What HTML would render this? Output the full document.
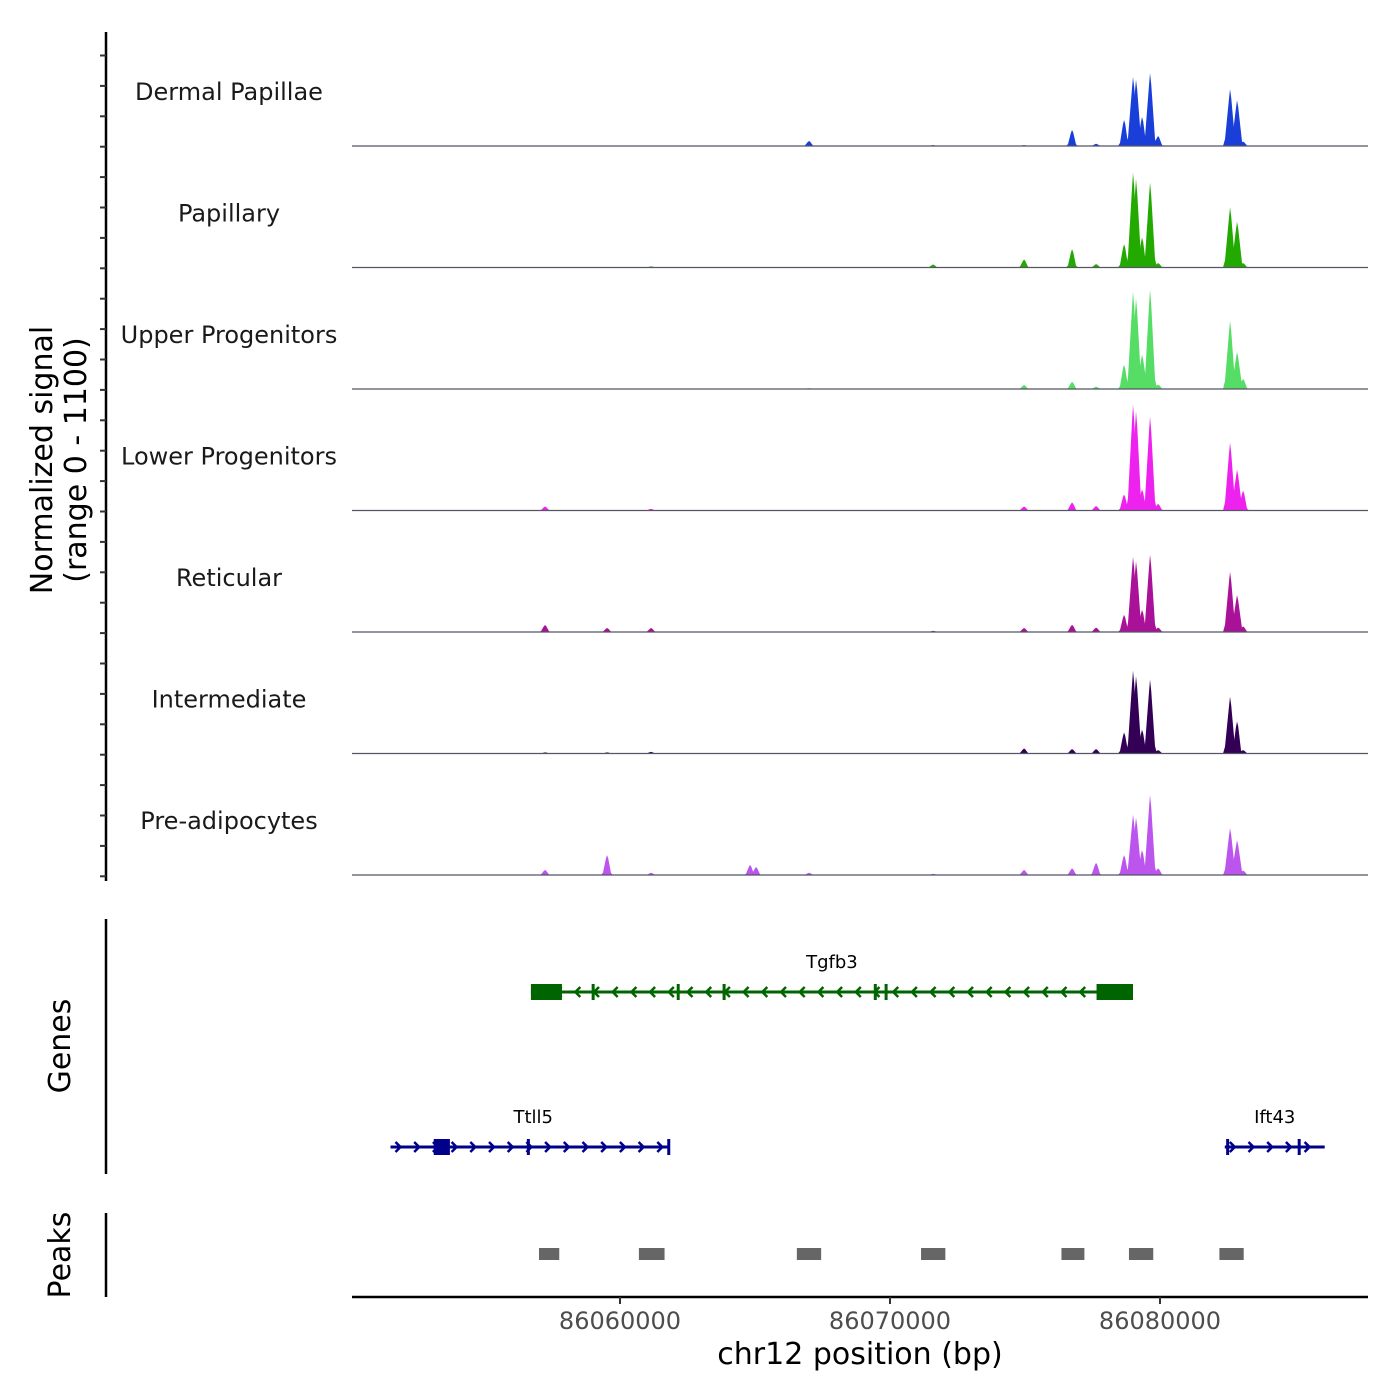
<!DOCTYPE html>
<html><head><meta charset="utf-8">
<style>
html,body{margin:0;padding:0;background:#fff;}
svg{display:block;font-family:"DejaVu Sans","Liberation Sans",sans-serif;}
</style></head>
<body>
<svg id="chart" width="1400" height="1400" viewBox="0 0 1400 1400" xmlns="http://www.w3.org/2000/svg">
<rect width="1400" height="1400" fill="#fff"/>
<g id="tracks"></g>
<g id="genes"></g>
<g id="peaks"></g>
<g id="axes"></g>
</svg>
<script>
// ---- data ----
const trackNames = ["Dermal Papillae","Papillary","Upper Progenitors","Lower Progenitors","Reticular","Intermediate","Pre-adipocytes"];
const trackColors = ["#1a3fd9","#22aa00","#55dd66","#ee22ee","#aa1199","#330055","#bb55ee"];
const peakPositions = [86057222,86059518,86061148,86064815,86065037,86066999,86071593,86074963,86076741,86077630,86078667,86079000,86079111,86079333,86079630,86079926,86082593,86082852,86083074];
const sigDermal       = [5,0,5,0,0,45,8,8,145,20,235,625,600,262,660,90,515,415,40];
const sigPapillary    = [0,0,10,0,0,0,27,72,165,30,210,860,800,270,770,40,545,415,40];
const sigUpper        = [0,0,0,0,0,8,0,36,65,20,220,880,820,310,900,40,615,335,90];
const sigLower        = [36,0,15,0,0,0,0,36,72,40,145,960,900,190,850,60,615,370,180];
const sigReticular    = [63,36,36,0,0,0,10,36,65,40,155,680,640,200,700,40,545,335,50];
const sigIntermediate = [10,10,15,0,0,0,0,45,40,40,190,750,700,215,670,30,515,290,30];
const sigPreadipocyte = [45,180,20,90,72,20,10,45,60,110,180,545,520,225,725,60,425,315,40];
const signals = [sigDermal,sigPapillary,sigUpper,sigLower,sigReticular,sigIntermediate,sigPreadipocyte];
const xTicks = [86060000,86070000,86080000];
const peakStarts = [86057000,86060700,86066550,86071150,86076350,86078850,86082200];
const peakEnds   = [86057750,86061650,86067450,86072050,86077200,86079750,86083100];
const genes = [
 {name:"Tgfb3",strand:-1,start:86056700,end:86079000,exons:[[86056700,86057850],[86058950,86059050],[86062100,86062200],[86063800,86063850],[86069400,86069500],[86069800,86069900],[86077650,86079000]],row:0},
 {name:"Ttll5",strand:1,start:86051500,end:86061850,exons:[[86053100,86053700],[86056550,86056650],[86061750,86061850]],row:1},
 {name:"Ift43",strand:1,start:86082400,end:86086100,exons:[[86082450,86082550],[86085100,86085200]],row:1}
];
// ---- scales ----
const X0=352,X1=1368,bp0=86050074,pxPerBp=0.027;
const xs=bp=>X0+(bp-bp0)*pxPerBp;
const trackH=121.5, baseY0=146, maxVal=1100;
const ys=(t,v)=>baseY0+t*trackH - v/maxVal*trackH;
const NS="http://www.w3.org/2000/svg";
function mk(tag,attrs,parent){const e=document.createElementNS(NS,tag);for(const k in attrs)e.setAttribute(k,attrs[k]);parent.appendChild(e);return e;}
const gT=document.getElementById('tracks');
signals.forEach((sig,t)=>{
  const g=mk('g',{},gT);
  
  
  const base=ys(t,0);
  peakPositions.forEach((p,i)=>{
    const v=sig[i]; if(v<=0)return;
    const cx=xs(p), top=ys(t,v), h=base-top, hw=v>300?5:4;
    const poly=mk('polygon',{points:`${cx-hw-2},${base} ${cx-hw},${base-h*0.12} ${cx-1.2},${top+h*0.2} ${cx},${top} ${cx+1.2},${top+h*0.15} ${cx+hw},${base-h*0.1} ${cx+hw+2},${base}`,fill:trackColors[t]},g);
    
    
  });
  const bl=mk('line',{x1:X0,x2:X1,y1:base,y2:base,stroke:'#555566','stroke-width':1.2},g);
  
  
  const lab=mk('text',{x:229,y:base-46,'text-anchor':'middle','font-size':24,fill:'#1a1a1a'},g);
  lab.textContent=trackNames[t];
  
  
});
// genes
const gG=document.getElementById('genes');
genes.forEach(ge=>{
  const col=ge.strand<0?'#006400':'#00008b';
  const y=ge.row===0?992:1147;
  const g=mk('g',{},gG);
  
  
  mk('line',{x1:xs(ge.start),x2:xs(ge.end),y1:y,y2:y,stroke:col,'stroke-width':3},g);
  const a0=xs(ge.start)+8,a1=xs(ge.end)-4;
  for(let x=a0;x<a1;x+=18.7){
    const d=ge.strand<0?`M${x+4},${y-5} L${x-1},${y} L${x+4},${y+5}`:`M${x-3},${y-5} L${x+2},${y} L${x-3},${y+5}`;
    mk('path',{d:d,fill:'none',stroke:col,'stroke-width':2.5},g);
  }
  ge.exons.forEach(ex=>{
    const w=Math.max(3,xs(ex[1])-xs(ex[0]));
    const r=mk('rect',{x:xs(ex[0]),y:y-8,width:w,height:16,fill:col},g);
    
    
  });
  const lab=mk('text',{x:(xs(ge.start)+xs(ge.end))/2+(ge.name==="Ttll5"?3:0),y:y-24,'text-anchor':'middle','font-size':18,fill:'#000'},g);
  lab.textContent=ge.name;
  
  
});
// peaks
const gP=document.getElementById('peaks');
peakStarts.forEach((s,i)=>{
  const r=mk('rect',{x:xs(s),y:1248,width:xs(peakEnds[i])-xs(s),height:12,fill:'#666666'},gP);
  
  
});
// axes
const gA=document.getElementById('axes');
mk('line',{x1:106,x2:106,y1:32,y2:881,stroke:'#000','stroke-width':2.5},gA);
for(let k=0;k<28;k++){const y=55.5+k*30.4;mk('line',{x1:100,x2:106,y1:y,y2:y,stroke:'#333','stroke-width':2},gA);}
mk('line',{x1:106,x2:106,y1:919,y2:1174,stroke:'#000','stroke-width':2.5},gA);
mk('line',{x1:106,x2:106,y1:1213,y2:1297,stroke:'#000','stroke-width':2.5},gA);
mk('line',{x1:X0,x2:X1,y1:1297,y2:1297,stroke:'#000','stroke-width':2.5},gA);
xTicks.forEach(t=>{
  const x=xs(t);
  mk('line',{x1:x,x2:x,y1:1297,y2:1304,stroke:'#333','stroke-width':2},gA);
  const tx=mk('text',{x:x,y:1329,'text-anchor':'middle','font-size':24,fill:'#4d4d4d'},gA);
  tx.textContent=String(t);
  
  
});
const xt=mk('text',{x:860,y:1364,'text-anchor':'middle','font-size':30,fill:'#000'},gA);
xt.textContent='chr12 position (bp)';


const yt=mk('text',{transform:'translate(52,460) rotate(-90)','text-anchor':'middle','font-size':30,fill:'#000'},gA);


const t1=mk('tspan',{x:0,y:0},yt);t1.textContent='Normalized signal';
const t2=mk('tspan',{x:0,y:34},yt);t2.textContent='(range 0 - 1100)';
const gt=mk('text',{transform:'translate(70,1046) rotate(-90)','text-anchor':'middle','font-size':30,fill:'#000'},gA);
gt.textContent='Genes';


const pt=mk('text',{transform:'translate(70,1255) rotate(-90)','text-anchor':'middle','font-size':30,fill:'#000'},gA);
pt.textContent='Peaks';


</script>
</body></html>
